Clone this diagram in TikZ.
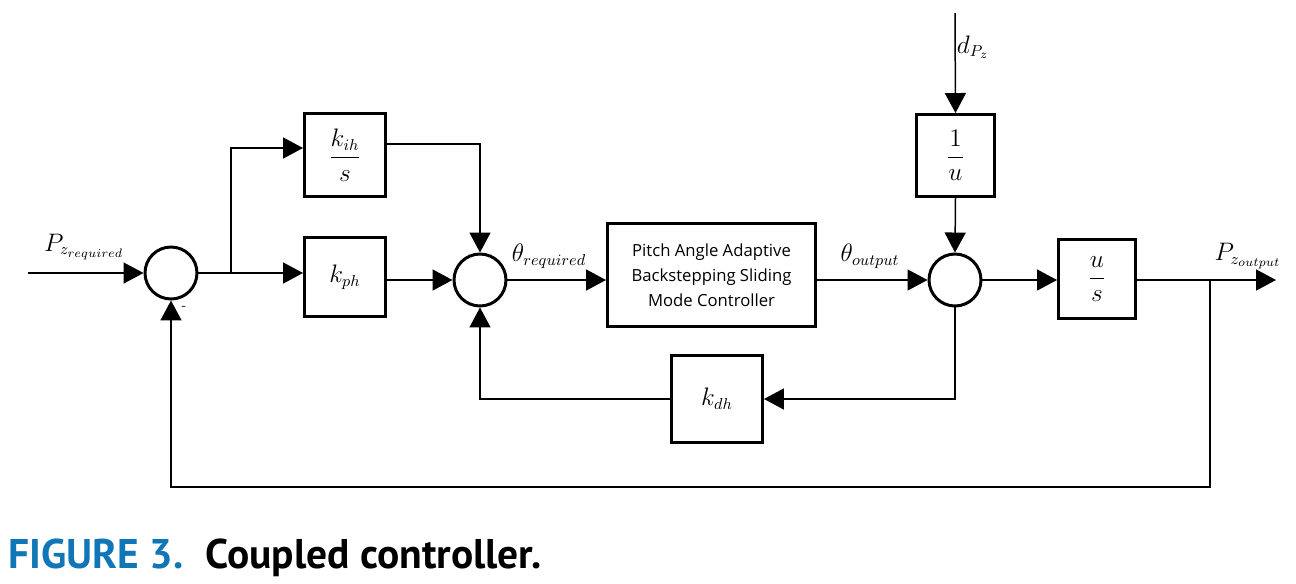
\documentclass[tikz,border=0pt]{standalone}
\usepackage{amsmath}
\usepackage{fontspec}
\newfontfamily\boxfont{Open Sans}
\newfontfamily\capfont{PT Sans}
\usetikzlibrary{positioning,arrows.meta}
\definecolor{capblue}{RGB}{16,118,183}

\begin{document}
\begin{tikzpicture}[
  x=0.02cm, y=-0.02cm,
  block/.style={
    rectangle, draw, line width=1.7pt,
    align=center, inner sep=0pt,
    font=\fontsize{13.5}{15}\selectfont
  },
  sumnode/.style={
    circle, draw, line width=1.7pt,
    minimum size=1.04cm, inner sep=0pt
  },
  lbl/.style={font=\fontsize{13.5}{15}\selectfont, inner sep=0pt},
  arrow/.style={-{Triangle[length=0.4cm,width=0.42cm]}, line width=0.85pt},
  wire/.style={line width=0.85pt}
]
\useasboundingbox (0,0) rectangle (1296,583);

% =====================================================
% OUTER LOOP
% =====================================================

\node[sumnode] (sum1) at (171,273) {};
\node[lbl, font=\scriptsize] (minus) at (184,308) {-};

\node[block, minimum width=1.62cm, minimum height=1.66cm] (kih) at (345,155)
{$\dfrac{k_{ih}}{s}$};

\node[block, minimum width=1.62cm, minimum height=1.58cm] (kph) at (345,277)
{$k_{ph}$};

\node[sumnode] (sum2) at (480,280) {};

% =====================================================
% PITCH CONTROLLER
% =====================================================

\node[block, minimum width=4.16cm, minimum height=2.06cm,
      font=\boxfont\fontsize{9.5}{14.2}\selectfont] (ctrl) at (711.5,275)
{Pitch Angle Adaptive\\
Backstepping Sliding\\
Mode Controller};

\node[block, minimum width=1.82cm, minimum height=1.74cm] (kdh) at (717,399)
{$k_{dh}$};

% =====================================================
% PLANT
% =====================================================

\node[sumnode] (sum3) at (955,280) {};

\node[block, minimum width=1.56cm, minimum height=1.64cm] (invu) at (955.5,155.5)
{$\dfrac{1}{u}$};

\node[block, minimum width=1.54cm, minimum height=1.58cm] (us) at (1097,279)
{$\dfrac{u}{s}$};

% =====================================================
% SIGNAL LABELS
% =====================================================

\node[lbl] (pzreq) at (84,247) {$P_{z_{required}}$};
\node[lbl] (threq) at (549,256) {$\theta_{required}$};
\node[lbl] (thout) at (870,256) {$\theta_{output}$};
\node[lbl] (dpz) at (973,47) {$d_{P_z}$};
\node[lbl] (pzout) at (1248,256) {$P_{z_{output}}$};

\coordinate (input) at (28,273);
\coordinate (split1) at (231,273);
\coordinate (dist) at (955,13);
\coordinate (split2) at (1210,280);
\coordinate (output) at (1276,280);
\coordinate (fbcorner) at (1210,487);

% =====================================================
% CONNECTORS
% =====================================================

\draw[arrow] (input) -- (sum1.west);
\draw[wire] (sum1.east) -- (split1);
\draw[arrow] (split1) -- (split1 -| kph.west);
\draw[arrow] (split1) |- ([yshift=0.14cm]kih.west);
\draw[arrow] ([yshift=0.22cm]kih.east) -| (sum2.north);
\draw[arrow] (sum2.west -| kph.east) -- (sum2.west);
\draw[arrow] (sum2.east) -- (sum2.east -| ctrl.west);
\draw[arrow] (sum3.west -| ctrl.east) -- (sum3.west);

\draw[arrow] (dist) -- (invu.north);
\draw[arrow] (invu.south) -- (sum3.north);
\draw[arrow] (sum3.east) -- (sum3.east -| us.west);
\draw[wire] (split2 -| us.east) -- (split2);
\draw[arrow] (split2) -- (output);

% inner loop through k_dh
\draw[arrow] (sum3.south) |- (kdh.east);
\draw[arrow] (kdh.west) -| (sum2.south);

% outer feedback
\draw[arrow] (split2) -- (fbcorner) -| (sum1.south);

% =====================================================
% CAPTION
% =====================================================

\node[anchor=base west, inner sep=0pt, text=capblue,
      font=\capfont\bfseries\fontsize{23.6}{28}\selectfont] (figlabel) at (8,568)
{FIGURE 3.};
\node[anchor=base west, inner sep=0pt,
      font=\capfont\bfseries\fontsize{23.6}{28}\selectfont] (figtitle) at (205,568)
{Coupled controller.};

\end{tikzpicture}
\end{document}
